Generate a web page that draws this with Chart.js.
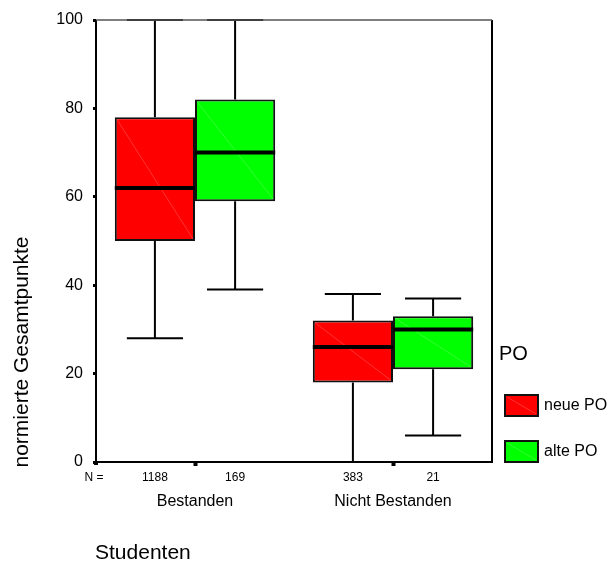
<!DOCTYPE html>
<html>
<head>
<meta charset="utf-8">
<script src="https://cdn.jsdelivr.net/npm/chart.js@4.4.1/dist/chart.umd.min.js"></script>
<style>
  html, body { margin: 0; padding: 0; background: #fff; }
</style>
</head>
<body>
<canvas id="chart" width="611" height="563"></canvas>
<script>
const groups = ["Bestanden", "Nicht Bestanden"];
const seriesNames = ["neue PO", "alte PO"];
const seriesColors = ["#ff0000", "#00ff00"];

// box statistics, one entry per group
const neueMin = [28, 0];
const neueQ1 = [50, 18];
const neueMedian = [62, 26];
const neueQ3 = [78, 32];
const neueMax = [100, 38];
const neueCount = [1188, 383];

const alteMin = [39, 6];
const alteQ1 = [59, 21];
const alteMedian = [70, 30];
const alteQ3 = [82, 33];
const alteMax = [100, 37];
const alteCount = [169, 21];

const yTicks = [0, 20, 40, 60, 80, 100];

const FONT = "'Liberation Sans', Arial, Helvetica, sans-serif";

function makeBoxDataset(label, color, min, q1, median, q3, max, count) {
  return {
    label: label,
    data: q1.map((v, i) => [v, q3[i]]),
    whiskerMin: min,
    whiskerMax: max,
    median: median,
    count: count,
    backgroundColor: color,
    borderColor: "#111",
    borderWidth: 2,
    borderSkipped: false,
    barPercentage: 1,
    categoryPercentage: 0.81,
  };
}

const boxPlot = {
  id: "boxPlot",
  afterDatasetsDraw(chart) {
    const { ctx } = chart;
    const y = chart.scales.y;
    ctx.save();
    chart.data.datasets.forEach((ds, di) => {
      chart.getDatasetMeta(di).data.forEach((bar, i) => {
        const x = bar.x;
        const half = bar.width / 2;
        const cap = bar.width * 0.35;
        const top = y.getPixelForValue(ds.data[i][1]);
        const bottom = y.getPixelForValue(ds.data[i][0]);
        const hi = y.getPixelForValue(ds.whiskerMax[i]);
        const lo = y.getPixelForValue(ds.whiskerMin[i]);
        const med = y.getPixelForValue(ds.median[i]);

        // faint diagonal inside the box
        ctx.strokeStyle = "rgba(255,255,255,0.2)";
        ctx.lineWidth = 1;
        ctx.beginPath();
        ctx.moveTo(x - half + 2, top + 2);
        ctx.lineTo(x + half - 2, bottom - 2);
        ctx.stroke();

        ctx.strokeStyle = "#000";
        ctx.lineWidth = 2;
        ctx.beginPath();
        ctx.moveTo(x, top);
        ctx.lineTo(x, hi);
        ctx.moveTo(x - cap, hi);
        ctx.lineTo(x + cap, hi);
        ctx.moveTo(x, bottom);
        ctx.lineTo(x, lo);
        ctx.moveTo(x - cap, lo);
        ctx.lineTo(x + cap, lo);
        ctx.stroke();

        ctx.lineWidth = 4;
        ctx.beginPath();
        ctx.moveTo(x - half, med);
        ctx.lineTo(x + half, med);
        ctx.stroke();
      });
    });
    ctx.restore();
  },
  afterDraw(chart) {
    const { ctx, chartArea } = chart;
    ctx.save();

    // frame around the plot
    ctx.strokeStyle = "#000";
    ctx.lineWidth = 2;
    ctx.beginPath();
    ctx.moveTo(chartArea.left, chartArea.top);
    ctx.lineTo(chartArea.left, chartArea.bottom);
    ctx.lineTo(chartArea.right, chartArea.bottom);
    ctx.lineTo(chartArea.right, chartArea.top);
    ctx.stroke();
    ctx.strokeStyle = "#555";
    ctx.lineWidth = 1.5;
    ctx.beginPath();
    ctx.moveTo(chartArea.left, chartArea.top);
    ctx.lineTo(chartArea.right, chartArea.top);
    ctx.stroke();
    ctx.fillStyle = "#000";
    ctx.fillRect(chartArea.left - 2, chartArea.bottom, 4, 3);

    // case counts under each box
    ctx.textAlign = "center";
    ctx.textBaseline = "middle";
    ctx.font = "12px " + FONT;
    ctx.fillText("N =", chartArea.left - 2, chartArea.bottom + 16);
    chart.data.datasets.forEach((ds, di) => {
      chart.getDatasetMeta(di).data.forEach((bar, i) => {
        ctx.fillText(String(ds.count[i]), bar.x, chartArea.bottom + 16);
      });
    });

    // axis titles
    ctx.font = "21px " + FONT;
    ctx.textAlign = "left";
    ctx.textBaseline = "alphabetic";
    ctx.fillText("Studenten", 95, 559);
    ctx.save();
    ctx.translate(28, 352);
    ctx.rotate(-Math.PI / 2);
    ctx.textAlign = "center";
    ctx.fillText("normierte Gesamtpunkte", 0, 0);
    ctx.restore();

    // legend
    ctx.textBaseline = "middle";
    ctx.font = "20px " + FONT;
    ctx.fillText("PO", 499, 354);
    ctx.font = "16px " + FONT;
    seriesNames.forEach((name, i) => {
      const top = 395 + i * 46;
      ctx.fillStyle = seriesColors[i];
      ctx.fillRect(505, top, 33, 21);
      ctx.strokeStyle = "rgba(255,255,255,0.2)";
      ctx.lineWidth = 1;
      ctx.beginPath();
      ctx.moveTo(507, top + 2);
      ctx.lineTo(536, top + 19);
      ctx.stroke();
      ctx.strokeStyle = "#111";
      ctx.lineWidth = 2;
      ctx.strokeRect(505, top, 33, 21);
      ctx.fillStyle = "#000";
      ctx.fillText(name, 544, top + 11);
    });
    ctx.restore();
  },
};

new Chart(document.getElementById("chart"), {
  type: "bar",
  data: {
    labels: groups,
    datasets: [
      makeBoxDataset(seriesNames[0], seriesColors[0], neueMin, neueQ1, neueMedian, neueQ3, neueMax, neueCount),
      makeBoxDataset(seriesNames[1], seriesColors[1], alteMin, alteQ1, alteMedian, alteQ3, alteMax, alteCount),
    ],
  },
  options: {
    responsive: false,
    animation: false,
    layout: {
      padding: { top: 20, right: 119, left: 0, bottom: 0 },
    },
    plugins: {
      legend: { display: false },
      tooltip: { enabled: false },
    },
    scales: {
      x: {
        offset: true,
        border: { display: false },
        grid: {
          offset: false,
          drawOnChartArea: false,
          tickLength: 4,
          tickWidth: 4,
          tickColor: "#000",
        },
        ticks: {
          padding: 26,
          color: "#000",
          font: { family: FONT, size: 16 },
        },
        afterFit(scale) {
          scale.height = 101;
        },
      },
      y: {
        min: 0,
        max: 100,
        border: { display: false },
        grid: {
          drawOnChartArea: false,
          tickLength: 3,
          tickWidth: 3,
          tickColor: "#000",
        },
        ticks: {
          padding: 10,
          color: "#000",
          font: { family: FONT, size: 16 },
        },
        afterBuildTicks(scale) {
          scale.ticks = yTicks.map((v) => ({ value: v }));
        },
        afterFit(scale) {
          scale.width = 96;
        },
      },
    },
  },
  plugins: [boxPlot],
});
</script>
</body>
</html>
